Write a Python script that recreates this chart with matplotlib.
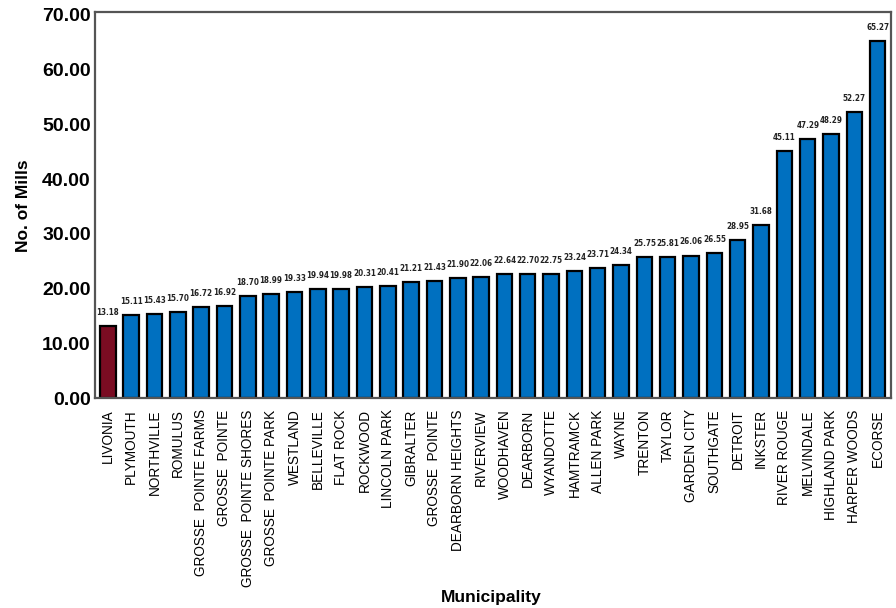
import matplotlib.pyplot as plt
import numpy as np
from matplotlib import font_manager

municipalities = ['LIVONIA', 'PLYMOUTH', 'NORTHVILLE', 'ROMULUS', 'GROSSE  POINTE FARMS',
                  'GROSSE  POINTE', 'GROSSE  POINTE SHORES', 'GROSSE  POINTE PARK', 'WESTLAND',
                  'BELLEVILLE', 'FLAT ROCK', 'ROCKWOOD', 'LINCOLN PARK', 'GIBRALTER',
                  'GROSSE  POINTE', 'DEARBORN HEIGHTS', 'RIVERVIEW', 'WOODHAVEN', 'DEARBORN',
                  'WYANDOTTE', 'HAMTRAMCK', 'ALLEN PARK', 'WAYNE', 'TRENTON', 'TAYLOR',
                  'GARDEN CITY', 'SOUTHGATE', 'DETROIT', 'INKSTER', 'RIVER ROUGE',
                  'MELVINDALE', 'HIGHLAND PARK', 'HARPER WOODS', 'ECORSE']
mills = [13.18, 15.11, 15.43, 15.70, 16.72, 16.92, 18.70, 18.99, 19.33, 19.94, 19.98,
         20.31, 20.41, 21.21, 21.43, 21.90, 22.06, 22.64, 22.70, 22.75, 23.24, 23.71,
         24.34, 25.75, 25.81, 26.06, 26.55, 28.95, 31.68, 45.11, 47.29, 48.29, 52.27, 65.27]
yticks = [0, 10, 20, 30, 40, 50, 60, 70]

# narrow face for the value labels if it is around
names = {f.name for f in font_manager.fontManager.ttflist}
narrow = 'Liberation Sans Narrow' if 'Liberation Sans Narrow' in names else 'DejaVu Sans'

plt.rcParams['font.family'] = ['Liberation Sans', 'DejaVu Sans']

fig = plt.figure(figsize=(8.96, 6.08), dpi=100)
ax = fig.add_axes([0.106, 0.345, 0.888, 0.635])

x = np.arange(len(mills))
colors = ['#7A0C22'] + ['#0070C0'] * (len(mills) - 1)
bars = ax.bar(x, mills, width=0.66, color=colors, edgecolor='black', linewidth=1.6, zorder=2)

for xi, v in zip(x, mills):
    ax.annotate(f'{v:.2f}', (xi, v), xytext=(0, 6.5), textcoords='offset points',
                ha='center', va='bottom', fontsize=5.8, fontweight='bold',
                family=narrow, fontstretch='condensed', color='#222222')

ax.set_xlim(-0.55, len(mills) - 0.45)
ax.set_ylim(0, 70.5)
ax.set_yticks(yticks)
ax.set_yticklabels([f'{t:.2f}' for t in yticks], fontsize=14, fontweight='bold')
ax.set_xticks(x)
ax.set_xticklabels(municipalities, rotation=90, fontsize=9.8)
ax.tick_params(axis='both', length=0)
ax.tick_params(axis='x', pad=8)
ax.tick_params(axis='y', pad=3)

for s in ax.spines.values():
    s.set_color('#555555')
    s.set_linewidth(1.6)

ax.set_ylabel('No. of Mills', fontsize=12.5, fontweight='bold', labelpad=8)
fig.text(0.548, 0.005, 'Municipality', ha='center', va='bottom', fontsize=12.5, fontweight='bold')

fig.savefig('out.png', dpi=100)
